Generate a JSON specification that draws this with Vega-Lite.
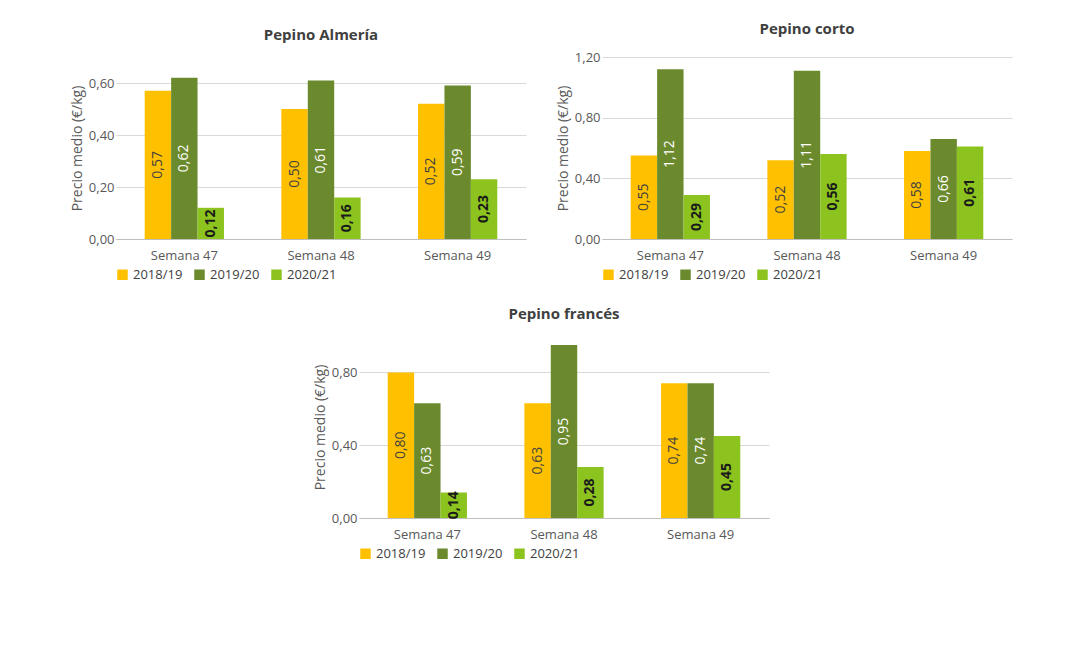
{
  "$schema": "https://vega.github.io/schema/vega-lite/v6.json",
  "background": "white",
  "padding": {"left": 70, "top": 22, "right": 10, "bottom": 5},
  "config": {
    "locale": {"number": {"decimal": ",", "thousands": ".", "grouping": [3], "currency": ["", " €"]}},
    "font": "Open Sans",
    "view": {"stroke": null},
    "title": {"fontSize": 15, "fontWeight": "bold", "color": "#404040", "font": "Open Sans", "offset": 14},
    "axis": {"labelColor": "#595959", "labelFontSize": 13, "titleColor": "#595959", "titleFontSize": 14, "titleFontWeight": "normal", "labelOverlap": false},
    "legend": {"labelColor": "#404040", "labelFontSize": 13, "symbolType": "square", "symbolSize": 110, "orient": "bottom", "direction": "horizontal", "title": null, "offset": 6},
    "concat": {"spacing": 30}
  },
  "resolve": {"scale": {"color": "independent"}, "legend": {"color": "independent"}},
  "datasets": {
    "precios": [
      {"panel": "Pepino Almería", "week": "Semana 47", "season": "2018/19", "price": 0.57},
      {"panel": "Pepino Almería", "week": "Semana 47", "season": "2019/20", "price": 0.62},
      {"panel": "Pepino Almería", "week": "Semana 47", "season": "2020/21", "price": 0.12},
      {"panel": "Pepino Almería", "week": "Semana 48", "season": "2018/19", "price": 0.50},
      {"panel": "Pepino Almería", "week": "Semana 48", "season": "2019/20", "price": 0.61},
      {"panel": "Pepino Almería", "week": "Semana 48", "season": "2020/21", "price": 0.16},
      {"panel": "Pepino Almería", "week": "Semana 49", "season": "2018/19", "price": 0.52},
      {"panel": "Pepino Almería", "week": "Semana 49", "season": "2019/20", "price": 0.59},
      {"panel": "Pepino Almería", "week": "Semana 49", "season": "2020/21", "price": 0.23},
      {"panel": "Pepino corto", "week": "Semana 47", "season": "2018/19", "price": 0.55},
      {"panel": "Pepino corto", "week": "Semana 47", "season": "2019/20", "price": 1.12},
      {"panel": "Pepino corto", "week": "Semana 47", "season": "2020/21", "price": 0.29},
      {"panel": "Pepino corto", "week": "Semana 48", "season": "2018/19", "price": 0.52},
      {"panel": "Pepino corto", "week": "Semana 48", "season": "2019/20", "price": 1.11},
      {"panel": "Pepino corto", "week": "Semana 48", "season": "2020/21", "price": 0.56},
      {"panel": "Pepino corto", "week": "Semana 49", "season": "2018/19", "price": 0.58},
      {"panel": "Pepino corto", "week": "Semana 49", "season": "2019/20", "price": 0.66},
      {"panel": "Pepino corto", "week": "Semana 49", "season": "2020/21", "price": 0.61},
      {"panel": "Pepino francés", "week": "Semana 47", "season": "2018/19", "price": 0.80},
      {"panel": "Pepino francés", "week": "Semana 47", "season": "2019/20", "price": 0.63},
      {"panel": "Pepino francés", "week": "Semana 47", "season": "2020/21", "price": 0.14},
      {"panel": "Pepino francés", "week": "Semana 48", "season": "2018/19", "price": 0.63},
      {"panel": "Pepino francés", "week": "Semana 48", "season": "2019/20", "price": 0.95},
      {"panel": "Pepino francés", "week": "Semana 48", "season": "2020/21", "price": 0.28},
      {"panel": "Pepino francés", "week": "Semana 49", "season": "2018/19", "price": 0.74},
      {"panel": "Pepino francés", "week": "Semana 49", "season": "2019/20", "price": 0.74},
      {"panel": "Pepino francés", "week": "Semana 49", "season": "2020/21", "price": 0.45}
    ]
  },
  "vconcat": [
    {
      "resolve": {"scale": {"color": "independent"}, "legend": {"color": "independent"}},
      "hconcat": [
        {
          "title": "Pepino Almería",
          "width": 410, "height": 182,
          "data": {"name": "precios"},
          "transform": [{"filter": "datum.panel === 'Pepino Almería'"}, {"calculate": "datum.price / 2", "as": "mid"}],
          "encoding": {
            "x": {"field": "week", "type": "nominal", "title": null, "axis": {"labelAngle": 0, "ticks": false, "domainColor": "#bfbfbf", "labelPadding": 10}, "scale": {"paddingInner": 0.42, "paddingOuter": 0.21}},
            "xOffset": {"field": "season", "type": "nominal"}
          },
          "layer": [
            {"mark": {"type": "bar"}, "encoding": {
              "y": {"field": "price", "type": "quantitative", "title": "Precio medio (€/kg)", "scale": {"domain": [0, 0.7]}, "axis": {"values": [0, 0.1, 0.2, 0.3, 0.4, 0.5, 0.6, 0.7], "format": ".2f", "ticks": false, "domain": false, "gridColor": "#d9d9d9"}},
              "color": {"field": "season", "type": "nominal", "scale": {"domain": ["2018/19", "2019/20", "2020/21"], "range": ["#ffc000", "#6b8a2e", "#8cc31f"]}}}},
            {"transform": [{"filter": "datum.season !== '2020/21'"}], "mark": {"type": "text", "angle": 270, "fontSize": 14}, "encoding": {
              "y": {"field": "mid", "type": "quantitative"}, "text": {"field": "price", "format": ".2f"},
              "color": {"condition": {"test": "datum.season === '2019/20'", "value": "white"}, "value": "#404040"}}},
            {"transform": [{"filter": "datum.season === '2020/21'"}], "mark": {"type": "text", "angle": 270, "fontSize": 14, "fontWeight": "bold", "color": "#1a1a1a"}, "encoding": {
              "y": {"field": "mid", "type": "quantitative"}, "text": {"field": "price", "format": ".2f"}}}
          ]
        },
        {
          "title": "Pepino corto",
          "width": 410, "height": 182,
          "data": {"name": "precios"},
          "transform": [{"filter": "datum.panel === 'Pepino corto'"}, {"calculate": "datum.price / 2", "as": "mid"}],
          "encoding": {
            "x": {"field": "week", "type": "nominal", "title": null, "axis": {"labelAngle": 0, "ticks": false, "domainColor": "#bfbfbf", "labelPadding": 10}, "scale": {"paddingInner": 0.42, "paddingOuter": 0.21}},
            "xOffset": {"field": "season", "type": "nominal"}
          },
          "layer": [
            {"mark": {"type": "bar"}, "encoding": {
              "y": {"field": "price", "type": "quantitative", "title": "Precio medio (€/kg)", "scale": {"domain": [0, 1.2]}, "axis": {"values": [0, 0.2, 0.4, 0.6, 0.8, 1.0, 1.2], "format": ".2f", "ticks": false, "domain": false, "gridColor": "#d9d9d9"}},
              "color": {"field": "season", "type": "nominal", "scale": {"domain": ["2018/19", "2019/20", "2020/21"], "range": ["#ffc000", "#6b8a2e", "#8cc31f"]}}}},
            {"transform": [{"filter": "datum.season !== '2020/21'"}], "mark": {"type": "text", "angle": 270, "fontSize": 14}, "encoding": {
              "y": {"field": "mid", "type": "quantitative"}, "text": {"field": "price", "format": ".2f"},
              "color": {"condition": {"test": "datum.season === '2019/20'", "value": "white"}, "value": "#404040"}}},
            {"transform": [{"filter": "datum.season === '2020/21'"}], "mark": {"type": "text", "angle": 270, "fontSize": 14, "fontWeight": "bold", "color": "#1a1a1a"}, "encoding": {
              "y": {"field": "mid", "type": "quantitative"}, "text": {"field": "price", "format": ".2f"}}}
          ]
        }
      ]
    },
    {
      "resolve": {"scale": {"color": "independent"}, "legend": {"color": "independent"}},
      "hconcat": [
        {
          "title": "Pepino francés",
          "width": 410, "height": 182,
          "data": {"name": "precios"},
          "transform": [{"filter": "datum.panel === 'Pepino francés'"}, {"calculate": "datum.price / 2", "as": "mid"}],
          "encoding": {
            "x": {"field": "week", "type": "nominal", "title": null, "axis": {"labelAngle": 0, "ticks": false, "domainColor": "#bfbfbf", "labelPadding": 10}, "scale": {"paddingInner": 0.42, "paddingOuter": 0.21}},
            "xOffset": {"field": "season", "type": "nominal"}
          },
          "layer": [
            {"mark": {"type": "bar"}, "encoding": {
              "y": {"field": "price", "type": "quantitative", "title": "Precio medio (€/kg)", "scale": {"domain": [0, 1.0]}, "axis": {"values": [0, 0.2, 0.4, 0.6, 0.8, 1.0], "format": ".2f", "ticks": false, "domain": false, "gridColor": "#d9d9d9"}},
              "color": {"field": "season", "type": "nominal", "scale": {"domain": ["2018/19", "2019/20", "2020/21"], "range": ["#ffc000", "#6b8a2e", "#8cc31f"]}}}},
            {"transform": [{"filter": "datum.season !== '2020/21'"}], "mark": {"type": "text", "angle": 270, "fontSize": 14}, "encoding": {
              "y": {"field": "mid", "type": "quantitative"}, "text": {"field": "price", "format": ".2f"},
              "color": {"condition": {"test": "datum.season === '2019/20'", "value": "white"}, "value": "#404040"}}},
            {"transform": [{"filter": "datum.season === '2020/21'"}], "mark": {"type": "text", "angle": 270, "fontSize": 14, "fontWeight": "bold", "color": "#1a1a1a"}, "encoding": {
              "y": {"field": "mid", "type": "quantitative"}, "text": {"field": "price", "format": ".2f"}}}
          ]
        }
      ]
    }
  ],
  "center": true,
  "spacing": 25
}
